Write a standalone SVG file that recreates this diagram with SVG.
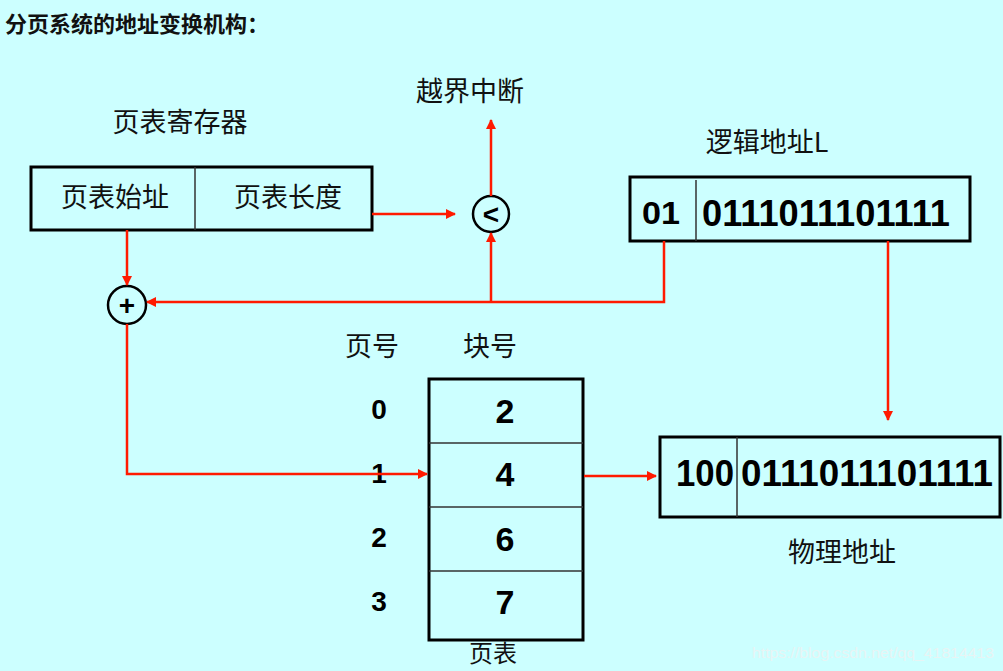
<svg xmlns="http://www.w3.org/2000/svg" width="1003" height="671" viewBox="0 0 1003 671">
<defs>
<marker id="ah" viewBox="0 0 10 10" refX="9" refY="5" markerWidth="4" markerHeight="4" orient="auto"><path d="M0,0 L10,5 L0,10 z" fill="#ff1a00"/></marker>
<style>
.cn{font-family:"Noto Sans CJK SC","Liberation Sans",sans-serif;fill:#111}
.num{font-family:"Liberation Sans","DejaVu Sans",sans-serif;font-weight:bold;fill:#000}
.box{fill:none;stroke:#000;stroke-width:3}
.div{stroke:#333;stroke-width:1.5}
.ln{fill:none;stroke:#ff1a00;stroke-width:2.5}
.circ{fill:none;stroke:#000;stroke-width:2.5}
</style>
</defs>
<rect width="1003" height="671" fill="#ccffff"/>
<text class="cn" x="5" y="32" font-size="22" font-weight="bold">分页系统的地址变换机构：</text>
<text class="cn" x="470" y="101" font-size="27" text-anchor="middle">越界中断</text>
<text class="cn" x="180" y="132" font-size="27" text-anchor="middle">页表寄存器</text>
<text class="cn" x="767" y="152" font-size="27" text-anchor="middle">逻辑地址L</text>
<g id="register">
<rect class="box" x="31" y="167" width="341" height="63"/>
<line class="div" x1="195" y1="167" x2="195" y2="230"/>
<text class="cn" x="115" y="207" font-size="27" text-anchor="middle">页表始址</text>
<text class="cn" x="288" y="207" font-size="27" text-anchor="middle">页表长度</text>
</g>
<g id="compare"><circle class="circ" cx="491" cy="214" r="18"/><text class="num" x="491" y="224" font-size="28" text-anchor="middle">&lt;</text></g>
<g id="adder"><circle class="circ" cx="127" cy="305" r="19"/><text class="num" x="127" y="315" font-size="28" text-anchor="middle">+</text></g>
<g id="logical">
<rect class="box" x="630" y="177" width="340" height="64"/>
<line class="div" x1="696" y1="180" x2="696" y2="241"/>
<text class="num" x="661" y="224" font-size="32" text-anchor="middle" textLength="38" lengthAdjust="spacingAndGlyphs">01</text>
<text class="num" x="702" y="226" font-size="36" textLength="248" lengthAdjust="spacingAndGlyphs">0111011101111</text>
</g>
<text class="cn" x="372" y="356" font-size="27" text-anchor="middle">页号</text>
<text class="cn" x="490" y="356" font-size="27" text-anchor="middle">块号</text>
<g id="pagetable">
<rect class="box" x="429" y="379" width="154" height="261"/>
<line class="div" x1="429" y1="443" x2="583" y2="443"/>
<line class="div" x1="429" y1="507" x2="583" y2="507"/>
<line class="div" x1="429" y1="571" x2="583" y2="571"/>
<text class="num" x="505" y="423" font-size="34" text-anchor="middle">2</text>
<text class="num" x="505" y="486" font-size="34" text-anchor="middle">4</text>
<text class="num" x="505" y="551" font-size="34" text-anchor="middle">6</text>
<text class="num" x="505" y="614" font-size="34" text-anchor="middle">7</text>
<text class="num" x="379" y="419" font-size="28" text-anchor="middle">0</text>
<text class="num" x="379" y="483" font-size="28" text-anchor="middle">1</text>
<text class="num" x="379" y="547" font-size="28" text-anchor="middle">2</text>
<text class="num" x="379" y="611" font-size="28" text-anchor="middle">3</text>
<text class="cn" x="493" y="662" font-size="24" text-anchor="middle">页表</text>
</g>
<g id="physical">
<rect class="box" x="660" y="437" width="340" height="80"/>
<line class="div" x1="737" y1="437" x2="737" y2="517"/>
<text class="num" x="705" y="486" font-size="36" text-anchor="middle" textLength="58" lengthAdjust="spacingAndGlyphs">100</text>
<text class="num" x="741" y="486" font-size="36" textLength="252" lengthAdjust="spacingAndGlyphs">0111011101111</text>
</g>
<text class="cn" x="842" y="562" font-size="27" text-anchor="middle">物理地址</text>
<g id="connectors">
<path class="ln" d="M372,214 H455" marker-end="url(#ah)"/>
<path class="ln" d="M491,196 V120" marker-end="url(#ah)"/>
<path class="ln" d="M664,241 V302 H147" marker-end="url(#ah)"/>
<path class="ln" d="M491,302 V233" marker-end="url(#ah)"/>
<path class="ln" d="M127,230 V285" marker-end="url(#ah)"/>
<path class="ln" d="M127,324 V474 H427" marker-end="url(#ah)"/>
<path class="ln" d="M888,241 V420" marker-end="url(#ah)"/>
<path class="ln" d="M584,476 H656" marker-end="url(#ah)"/>
</g>
<text x="752" y="658" font-family="Liberation Sans,sans-serif" font-size="15" fill="#e8f4f4" textLength="242" lengthAdjust="spacingAndGlyphs">https://blog.csdn.net/qq_41814413</text>
</svg>
